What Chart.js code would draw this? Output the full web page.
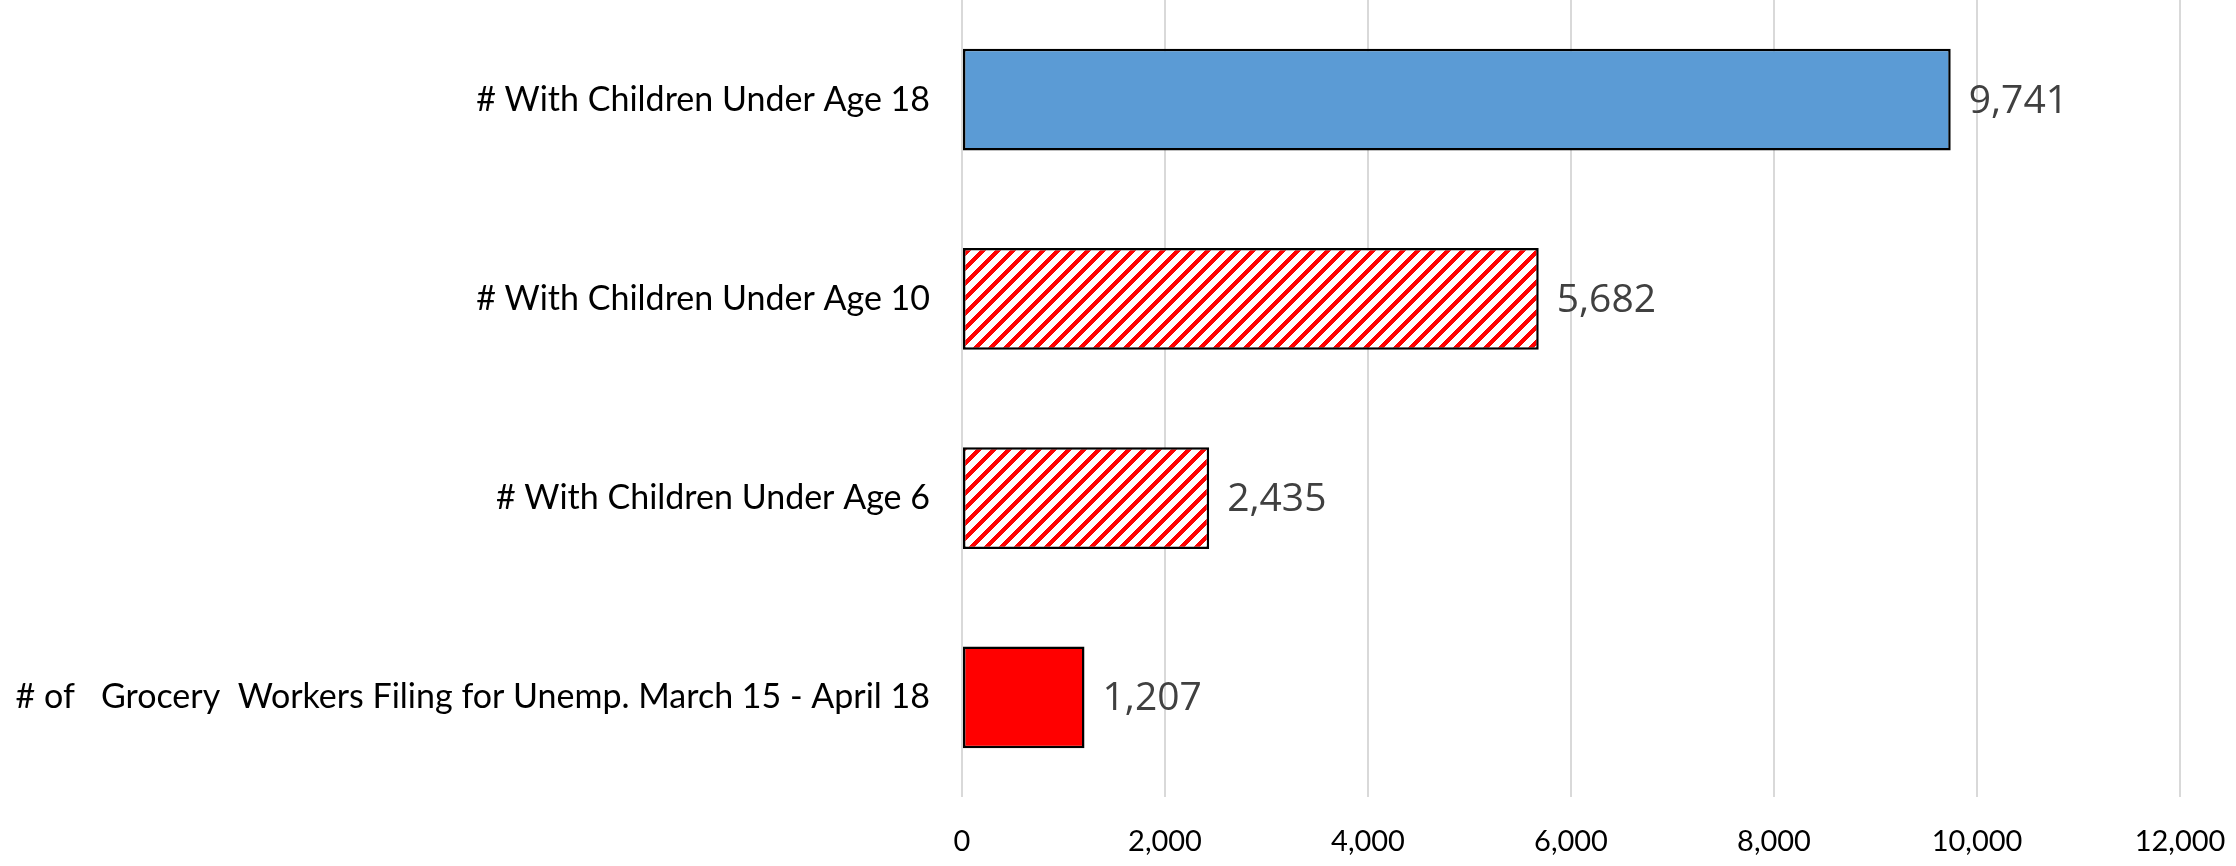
<!DOCTYPE html>
<html>
<head>
<meta charset="utf-8">
<script src="https://cdn.jsdelivr.net/npm/chart.js@4/dist/chart.umd.min.js"></script>
<style>
  html, body { margin: 0; padding: 0; background: #fff; }
  canvas { display: block; }
</style>
</head>
<body>
<canvas id="chart" width="2236" height="866"></canvas>
<script>
const categories = [
  '# With Children Under Age 18',
  '# With Children Under Age 10',
  '# With Children Under Age 6',
  '# of   Grocery  Workers Filing for Unemp. March 15 - April 18'
];
const counts = [9741, 5682, 2435, 1207];
const xTicks = [0, 2000, 4000, 6000, 8000, 10000, 12000];

// red diagonal stripes on white, drawn pixel by pixel
function makeHatch(size, stripe) {
  const tile = document.createElement('canvas');
  tile.width = size;
  tile.height = size;
  const tctx = tile.getContext('2d');
  tctx.fillStyle = '#ffffff';
  tctx.fillRect(0, 0, size, size);
  tctx.fillStyle = '#ff0000';
  for (let y = 0; y < size; y++) {
    for (let x = 0; x < size; x++) {
      if ((x + y) % size < stripe) tctx.fillRect(x, y, 1, 1);
    }
  }
  return document.getElementById('chart').getContext('2d').createPattern(tile, 'repeat');
}

const hatch = makeHatch(15, 6);
const barColors = ['#5B9BD5', hatch, hatch, '#FF0000'];

const fmt = v => Number(v).toLocaleString('en-US');

const valueLabels = {
  id: 'valueLabels',
  afterDatasetsDraw(chart) {
    const ctx = chart.ctx;
    const meta = chart.getDatasetMeta(0);
    ctx.save();
    ctx.font = '39px "Open Sans"';
    ctx.fillStyle = '#404040';
    ctx.textAlign = 'left';
    ctx.textBaseline = 'middle';
    meta.data.forEach((bar, i) => {
      ctx.fillText(fmt(counts[i]), bar.x + 18, bar.y + 2);
    });
    ctx.restore();
  }
};

new Chart(document.getElementById('chart'), {
  type: 'bar',
  data: {
    labels: categories,
    datasets: [{
      data: counts,
      backgroundColor: barColors,
      borderColor: '#000000',
      borderWidth: 2.5,
      borderSkipped: false,
      categoryPercentage: 1,
      barPercentage: 0.51
    }]
  },
  options: {
    indexAxis: 'y',
    responsive: false,
    animation: false,
    layout: { padding: { top: 0, right: 56, left: 0, bottom: 0 } },
    plugins: {
      legend: { display: false },
      tooltip: { enabled: false }
    },
    scales: {
      x: {
        min: 0,
        max: 12000,
        afterBuildTicks(scale) {
          scale.ticks = xTicks.map(v => ({ value: v }));
        },
        afterFit(scale) {
          scale.height = 69;
          scale.paddingLeft = 0;
          scale.paddingRight = 0;
        },
        grid: { color: '#d9d9d9', lineWidth: 2, drawTicks: false },
        border: { display: false },
        ticks: {
          padding: 27,
          color: '#000000',
          font: { family: 'Lato', size: 29 },
          callback: v => fmt(v)
        }
      },
      y: {
        afterFit(scale) {
          scale.width = 962;
          scale.paddingTop = 0;
          scale.paddingBottom = 0;
        },
        grid: { display: false, drawTicks: false },
        border: { display: false },
        ticks: {
          padding: 32,
          color: '#000000',
          font: { family: 'Lato', size: 34 }
        }
      }
    }
  },
  plugins: [valueLabels]
});
</script>
</body>
</html>
